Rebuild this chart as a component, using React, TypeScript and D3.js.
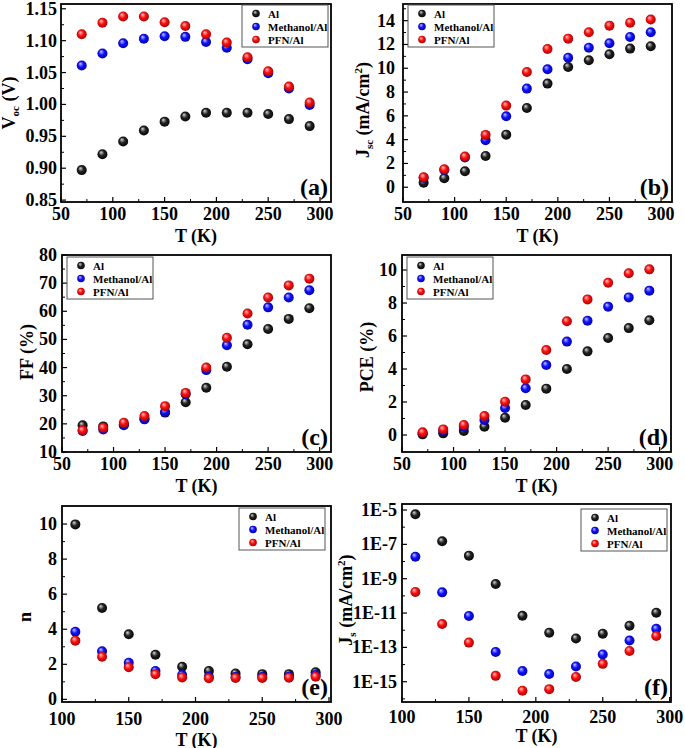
import React from 'react';
import * as d3 from 'd3';

// ---------- data ----------
const T_FULL = [70, 90, 110, 130, 150, 170, 190, 210, 230, 250, 270, 290];
const T_DIODE = [110, 130, 150, 170, 190, 210, 230, 250, 270, 290];
const SERIES = ['Al', 'Methanol/Al', 'PFN/Al'];

const VOC_AL = [0.897, 0.922, 0.942, 0.959, 0.973, 0.981, 0.987, 0.987, 0.987, 0.985, 0.977, 0.966];
const VOC_MEOH = [1.061, 1.080, 1.096, 1.103, 1.107, 1.106, 1.098, 1.089, 1.071, 1.049, 1.025, 0.999];
const VOC_PFN = [1.110, 1.128, 1.138, 1.138, 1.129, 1.123, 1.110, 1.097, 1.074, 1.052, 1.028, 1.003];

const JSC_AL = [0.38, 0.76, 1.34, 2.63, 4.42, 6.66, 8.71, 10.11, 10.67, 11.17, 11.65, 11.85];
const JSC_MEOH = [0.8, 1.45, 2.5, 3.95, 5.96, 8.29, 9.91, 10.89, 11.73, 12.1, 12.63, 13.02];
const JSC_PFN = [0.84, 1.51, 2.58, 4.4, 6.86, 9.69, 11.62, 12.49, 13.02, 13.58, 13.83, 14.09];

const FF_AL = [19.5, 19.1, 19.7, 21.8, 24.0, 27.7, 32.8, 40.3, 48.3, 53.7, 57.3, 61.1];
const FF_MEOH = [17.5, 18.0, 19.5, 21.6, 24.2, 30.5, 39.1, 47.9, 55.2, 61.4, 64.9, 67.5];
const FF_PFN = [17.7, 18.6, 20.4, 22.8, 26.3, 31.0, 40.0, 50.6, 59.2, 64.9, 69.2, 71.6];

const PCE_AL = [0.04, 0.1, 0.24, 0.5, 1.05, 1.82, 2.81, 4.0, 5.07, 5.88, 6.48, 6.95];
const PCE_MEOH = [0.1, 0.25, 0.5, 0.91, 1.64, 2.83, 4.24, 5.66, 6.93, 7.78, 8.34, 8.75];
const PCE_PFN = [0.16, 0.34, 0.61, 1.15, 2.02, 3.37, 5.15, 6.89, 8.22, 9.23, 9.8, 10.04];

const N_AL = [9.98, 5.21, 3.71, 2.55, 1.86, 1.62, 1.48, 1.44, 1.44, 1.54];
const N_MEOH = [3.86, 2.74, 2.09, 1.62, 1.39, 1.29, 1.27, 1.27, 1.29, 1.39];
const N_PFN = [3.35, 2.43, 1.83, 1.43, 1.25, 1.2, 1.22, 1.22, 1.24, 1.29];

const JS_AL = [5.6e-6, 1.5e-7, 2.2e-8, 4.9e-10, 6.9e-12, 7.1e-13, 3.3e-13, 6.3e-13, 1.8e-12, 1.05e-11];
const JS_MEOH = [1.9e-8, 1.6e-10, 6.8e-12, 5.4e-14, 4.2e-15, 2.8e-15, 7.8e-15, 3.9e-14, 2.5e-13, 1.2e-12];
const JS_PFN = [1.7e-10, 2.3e-12, 1.9e-13, 2.2e-15, 3.0e-16, 3.7e-16, 1.9e-15, 1.1e-14, 6.2e-14, 4.6e-13];

const X_TICKS_FULL = [50, 100, 150, 200, 250, 300];
const X_MINOR_FULL = [75, 125, 175, 225, 275];
const X_TICKS_DIODE = [100, 150, 200, 250, 300];
const X_MINOR_DIODE = [125, 175, 225, 275];

const VOC_TICKS = [0.85, 0.9, 0.95, 1.0, 1.05, 1.1, 1.15];
const VOC_MINOR = [0.875, 0.925, 0.975, 1.025, 1.075, 1.125];
const JSC_TICKS = [0, 2, 4, 6, 8, 10, 12, 14];
const JSC_MINOR = [1, 3, 5, 7, 9, 11, 13, 15];
const FF_TICKS = [10, 20, 30, 40, 50, 60, 70, 80];
const FF_MINOR = [15, 25, 35, 45, 55, 65, 75];
const PCE_TICKS = [0, 2, 4, 6, 8, 10];
const PCE_MINOR = [1, 3, 5, 7, 9];
const N_TICKS = [0, 2, 4, 6, 8, 10];
const N_MINOR = [1, 3, 5, 7, 9];
const JS_TICKS = [1e-15, 1e-13, 1e-11, 1e-9, 1e-7, 1e-5];
const JS_MINOR = [1e-16, 1e-14, 1e-12, 1e-10, 1e-8, 1e-6];

const FONT = '"Liberation Serif", "Times New Roman", serif';

type Frame = { x0: number; x1: number; y0: number; y1: number };

type PanelProps = {
  frame: Frame;
  xDomain: [number, number];
  yDomain: [number, number];
  log?: boolean;
  xs: number[];
  ys: number[][];
  xTicks: number[];
  xMinor: number[];
  yTicks: number[];
  yMinor: number[];
  fmt: (v: number) => string;
  yTitle: React.ReactNode;
  yTitleX: number;
  yTitleY: number;
  label: string;
  legend: { x: number; y: number };
  yLabelOff?: number;
  xLabelOff?: number;
  xTitleOff?: number;
};

function Sphere({ cx, cy, r, i }: { cx: number; cy: number; r: number; i: number }) {
  return <circle cx={cx} cy={cy} r={r} fill={`url(#sph${i})`} />;
}

function Panel(p: PanelProps) {
  const { frame: f } = p;
  const x = d3.scaleLinear().domain(p.xDomain).range([f.x0, f.x1]);
  const y = (p.log ? d3.scaleLog() : d3.scaleLinear()).domain(p.yDomain).range([f.y1, f.y0]);
  const off = p.yLabelOff ?? 5;
  const xoff = p.xLabelOff ?? 18;
  const toff = p.xTitleOff ?? 40;
  return (
    <g>
      {p.xTicks.map((t) => (
        <g key={'xt' + t}>
          <line x1={x(t)} x2={x(t)} y1={f.y1} y2={f.y1 - 5} stroke="black" strokeWidth={1.2} />
          <text x={x(t)} y={f.y1 + xoff} textAnchor="middle" fontSize={18} fontWeight="bold" fontFamily={FONT}>
            {t}
          </text>
        </g>
      ))}
      {p.xMinor.map((t) => (
        <line key={'xm' + t} x1={x(t)} x2={x(t)} y1={f.y1} y2={f.y1 - 3} stroke="black" strokeWidth={1} />
      ))}
      {p.yTicks.map((t) => (
        <g key={'yt' + t}>
          <line x1={f.x0} x2={f.x0 + 5} y1={y(t)} y2={y(t)} stroke="black" strokeWidth={1.2} />
          <text x={f.x0 - off} y={y(t) + 6} textAnchor="end" fontSize={18} fontWeight="bold" fontFamily={FONT}>
            {p.fmt(t)}
          </text>
        </g>
      ))}
      {p.yMinor.map((t) => (
        <line key={'ym' + t} x1={f.x0} x2={f.x0 + 3} y1={y(t)} y2={y(t)} stroke="black" strokeWidth={1} />
      ))}
      {p.ys.map((arr, si) => (
        <g key={'s' + si}>
          {arr.map((v, k) => (
            <Sphere key={k} cx={x(p.xs[k])} cy={y(v)} r={5} i={si} />
          ))}
        </g>
      ))}
      <rect x={f.x0} y={f.y0} width={f.x1 - f.x0} height={f.y1 - f.y0} fill="none" stroke="black" strokeWidth={1.8} />
      <g transform={`translate(${p.legend.x},${p.legend.y})`}>
        <rect x={0} y={0} width={86} height={42} fill="white" stroke="#555" strokeWidth={1} />
        {SERIES.map((s, i) => (
          <g key={s}>
            <Sphere cx={14} cy={8.5 + i * 13} r={3.8} i={i} />
            <text x={26} y={12.5 + i * 13} fontSize={11} fontWeight="bold" fontFamily={FONT}>
              {s}
            </text>
          </g>
        ))}
      </g>
      <text x={f.x1 - 3} y={f.y1 - 7} textAnchor="end" fontSize={24} fontWeight="bold" fontFamily={FONT}>
        {p.label}
      </text>
      <text
        x={(f.x0 + f.x1) / 2}
        y={f.y1 + toff}
        textAnchor="middle"
        fontSize={18}
        fontWeight="bold"
        fontFamily={FONT}
      >
        T (K)
      </text>
      <text
        transform={`translate(${p.yTitleX},${p.yTitleY}) rotate(-90)`}
        textAnchor="middle"
        fontSize={18}
        fontWeight="bold"
        fontFamily={FONT}
      >
        {p.yTitle}
      </text>
    </g>
  );
}

const fmt2 = d3.format('.2f');
const fmtInt = (v: number) => String(v);
const fmtExp = (v: number) => '1E' + Math.round(Math.log10(v));

export default function App() {
  return (
    <svg width={685} height={748} style={{ position: 'absolute', left: 0, top: 0, background: 'white' }}>
      <defs>
        {[
          ['#d8d8d8', '#222', '#000'],
          ['#c8c8ff', '#1010ff', '#00008a'],
          ['#ffc8c8', '#ff1010', '#8a0000'],
        ].map((c, i) => (
          <radialGradient key={i} id={`sph${i}`} cx="50%" cy="50%" r="60%" fx="35%" fy="30%">
            <stop offset="0%" stopColor={c[0]} />
            <stop offset="45%" stopColor={c[1]} />
            <stop offset="100%" stopColor={c[2]} />
          </radialGradient>
        ))}
      </defs>
      <rect x={0} y={0} width={685} height={748} fill="white" />
      <Panel
        frame={{ x0: 61, x1: 331, y0: 4, y1: 202 }}
        xDomain={[50, 310.6]}
        yDomain={[0.847, 1.1575]}
        xs={T_FULL}
        ys={[VOC_AL, VOC_MEOH, VOC_PFN]}
        xTicks={X_TICKS_FULL}
        xMinor={X_MINOR_FULL}
        yTicks={VOC_TICKS}
        yMinor={VOC_MINOR}
        fmt={fmt2}
        yTitle={
          <>
            <tspan>V</tspan>
            <tspan fontSize={11} dy={4}>oc</tspan>
            <tspan dy={-4}> (V)</tspan>
          </>
        }
        yTitleX={15}
        yTitleY={103}
        label="(a)"
        legend={{ x: 242, y: 5 }}
        yLabelOff={4}
      />
      <Panel
        frame={{ x0: 403, x1: 672, y0: 4, y1: 202 }}
        xDomain={[50, 310.6]}
        yDomain={[-1.24, 15.4]}
        xs={T_FULL}
        ys={[JSC_AL, JSC_MEOH, JSC_PFN]}
        xTicks={X_TICKS_FULL}
        xMinor={X_MINOR_FULL}
        yTicks={JSC_TICKS}
        yMinor={JSC_MINOR}
        fmt={fmtInt}
        yTitle={
          <>
            <tspan>J</tspan>
            <tspan fontSize={11} dy={4}>sc</tspan>
            <tspan dy={-4}> (mA/cm</tspan>
            <tspan fontSize={11} dy={-7}>2</tspan>
            <tspan dy={7}>)</tspan>
          </>
        }
        yTitleX={369}
        yTitleY={110}
        label="(b)"
        legend={{ x: 408, y: 5 }}
        yLabelOff={8}
      />
      <Panel
        frame={{ x0: 62, x1: 331, y0: 255, y1: 452 }}
        xDomain={[50, 311]}
        yDomain={[10, 80]}
        xs={T_FULL}
        ys={[FF_AL, FF_MEOH, FF_PFN]}
        xTicks={X_TICKS_FULL}
        xMinor={X_MINOR_FULL}
        yTicks={FF_TICKS}
        yMinor={FF_MINOR}
        fmt={fmtInt}
        yTitle={<tspan>FF (%)</tspan>}
        yTitleX={33}
        yTitleY={352}
        label="(c)"
        legend={{ x: 67, y: 257 }}
      />
      <Panel
        frame={{ x0: 402, x1: 671, y0: 255, y1: 452 }}
        xDomain={[50, 311]}
        yDomain={[-1.03, 10.91]}
        xs={T_FULL}
        ys={[PCE_AL, PCE_MEOH, PCE_PFN]}
        xTicks={X_TICKS_FULL}
        xMinor={X_MINOR_FULL}
        yTicks={PCE_TICKS}
        yMinor={PCE_MINOR}
        fmt={fmtInt}
        yTitle={<tspan>PCE (%)</tspan>}
        yTitleX={373}
        yTitleY={357}
        label="(d)"
        legend={{ x: 407, y: 257 }}
      />
      <Panel
        frame={{ x0: 62, x1: 331, y0: 506, y1: 702 }}
        xDomain={[100, 301.5]}
        yDomain={[-0.15, 11.03]}
        xs={T_DIODE}
        ys={[N_AL, N_MEOH, N_PFN]}
        xTicks={X_TICKS_DIODE}
        xMinor={X_MINOR_DIODE}
        yTicks={N_TICKS}
        yMinor={N_MINOR}
        fmt={fmtInt}
        yTitle={<tspan>n</tspan>}
        yTitleX={31}
        yTitleY={617}
        label="(e)"
        legend={{ x: 239, y: 508 }}
        xLabelOff={23}
        xTitleOff={43.5}
      />
      <Panel
        frame={{ x0: 402, x1: 671, y0: 504, y1: 702 }}
        xDomain={[100, 301]}
        yDomain={[Math.pow(10, -16.18), Math.pow(10, -4.65)]}
        log
        xs={T_DIODE}
        ys={[JS_AL, JS_MEOH, JS_PFN]}
        xTicks={X_TICKS_DIODE}
        xMinor={X_MINOR_DIODE}
        yTicks={JS_TICKS}
        yMinor={JS_MINOR}
        fmt={fmtExp}
        yTitle={
          <>
            <tspan>J</tspan>
            <tspan fontSize={11} dy={4}>s</tspan>
            <tspan dy={-4}> (mA/cm</tspan>
            <tspan fontSize={11} dy={-7}>2</tspan>
            <tspan dy={7}>)</tspan>
          </>
        }
        yTitleX={352}
        yTitleY={600}
        label="(f)"
        legend={{ x: 581, y: 509 }}
        xLabelOff={21}
        xTitleOff={40}
      />
    </svg>
  );
}
